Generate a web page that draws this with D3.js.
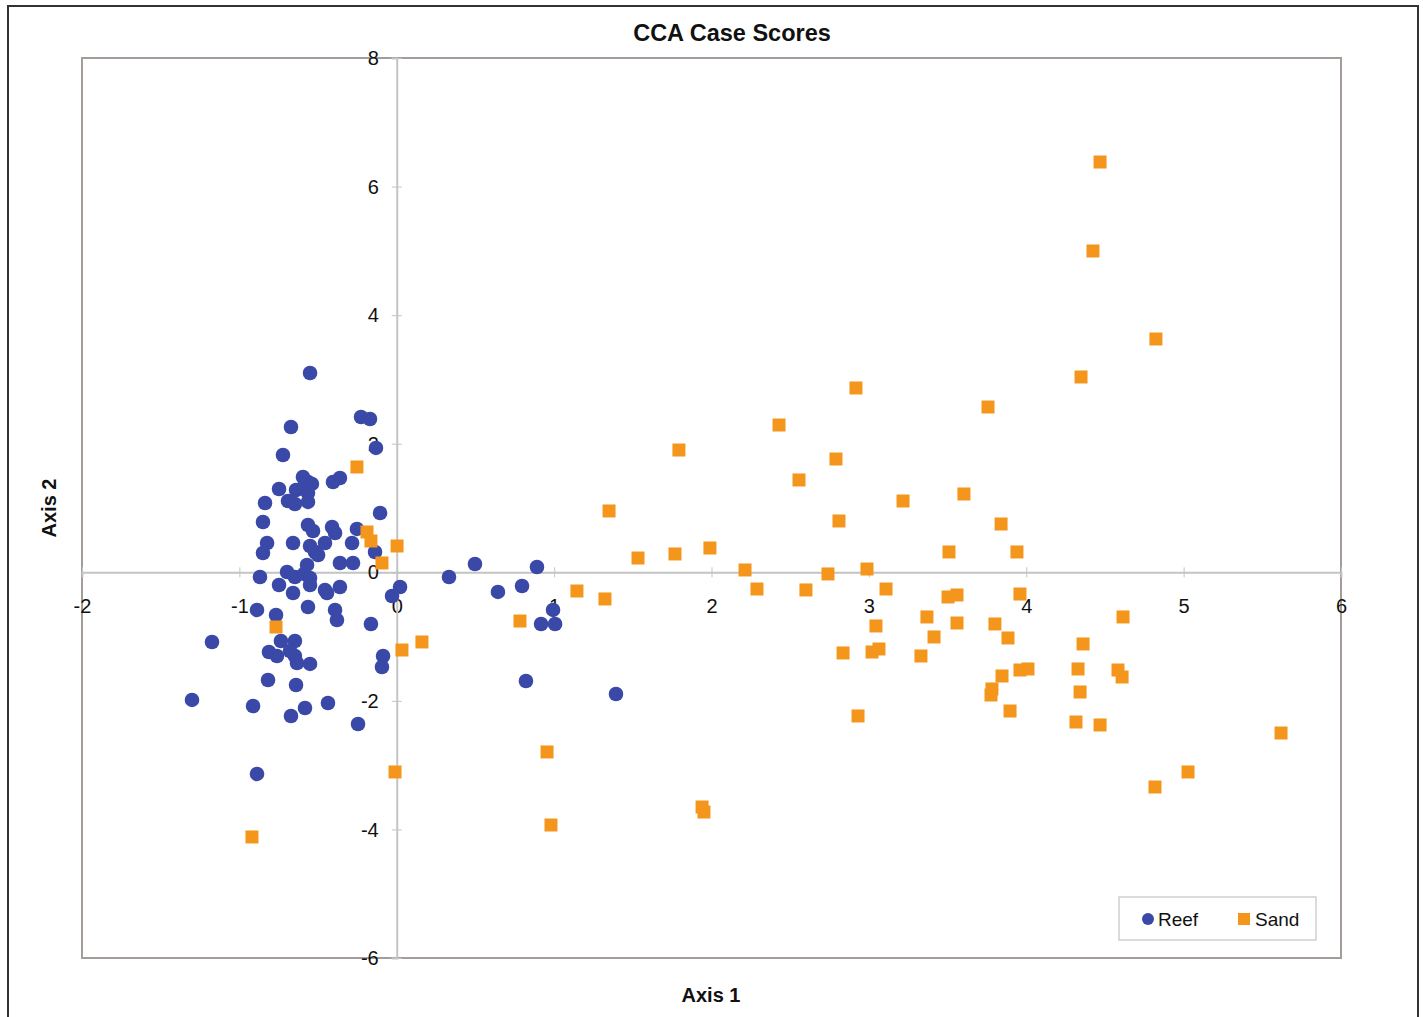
<!DOCTYPE html>
<html><head><meta charset="utf-8">
<script src="https://cdn.jsdelivr.net/npm/d3@7"></script>
<style>html,body{margin:0;padding:0;background:#fff;}svg{display:block;font-family:"Liberation Sans",Arial,sans-serif;}</style>
</head><body><svg id="c" width="1423" height="1017"></svg>
<script>
const title = "CCA Case Scores";
const xLabel = "Axis 1";
const yLabel = "Axis 2";
const xTicks = [-2,-1,0,1,2,3,4,5,6];
const yTicks = [-6,-4,-2,0,2,4,6,8];
const seriesNames = ["Reef","Sand"];
const reefX = [-0.551,-0.227,-0.170,-0.672,-0.132,-0.723,-0.596,-0.564,-0.539,-0.361,-0.405,-0.748,-0.640,-0.596,-0.564,-0.837,-0.691,-0.647,-0.564,-0.106,-0.850,-0.564,-0.532,-0.411,-0.392,-0.253,-0.824,-0.850,-0.659,-0.551,-0.519,-0.500,-0.456,-0.284,-0.138,-0.570,-0.361,-0.278,-0.869,-0.697,-0.647,-0.589,-0.551,-0.748,-0.551,-0.659,-0.456,-0.443,-0.361,0.021,-0.030,0.332,0.497,0.643,0.796,0.891,0.993,0.917,1.006,0.821,1.393,-0.888,-0.767,-0.564,-0.392,-0.380,-0.164,-1.174,-0.736,-0.647,-0.812,-0.761,-0.678,-0.647,-0.634,-0.551,-0.087,-0.094,-0.818,-0.640,-1.301,-0.913,-0.672,-0.583,-0.437,-0.246,-0.888];
const reefY = [3.100,2.416,2.385,2.260,1.934,1.825,1.482,1.405,1.374,1.467,1.405,1.296,1.280,1.311,1.234,1.078,1.109,1.062,1.094,0.922,0.782,0.736,0.642,0.705,0.611,0.674,0.456,0.300,0.456,0.409,0.316,0.269,0.456,0.456,0.316,0.114,0.145,0.145,-0.073,0.005,-0.073,-0.026,-0.089,-0.198,-0.198,-0.322,-0.275,-0.322,-0.229,-0.229,-0.369,-0.073,0.129,-0.306,-0.213,0.082,-0.586,-0.804,-0.804,-1.691,-1.893,-0.586,-0.664,-0.540,-0.586,-0.742,-0.804,-1.084,-1.069,-1.069,-1.240,-1.302,-1.224,-1.302,-1.411,-1.426,-1.302,-1.473,-1.675,-1.753,-1.986,-2.080,-2.235,-2.111,-2.033,-2.360,-3.137];
const sandX = [4.469,4.424,4.824,4.348,2.918,3.757,2.429,1.793,2.791,2.556,3.604,3.217,-0.253,1.349,2.810,3.840,-0.189,-0.164,0.002,-0.094,1.533,1.768,1.990,3.509,3.941,2.213,2.289,2.740,2.988,1.145,1.323,2.600,3.109,0.783,-0.767,0.160,0.033,3.045,3.369,3.503,3.560,3.960,3.414,3.560,3.801,3.884,4.615,4.361,2.836,3.020,3.064,3.331,3.846,3.960,4.011,4.329,4.583,4.609,3.782,3.776,4.342,3.897,2.931,4.316,4.469,5.619,0.955,-0.011,5.028,4.818,1.940,1.952,0.980,-0.920];
const sandY = [6.382,4.998,3.629,3.038,2.867,2.571,2.291,1.902,1.762,1.436,1.218,1.109,1.638,0.954,0.798,0.751,0.627,0.487,0.409,0.145,0.222,0.285,0.378,0.316,0.316,0.036,-0.260,-0.026,0.051,-0.291,-0.415,-0.275,-0.260,-0.758,-0.851,-1.084,-1.209,-0.835,-0.695,-0.384,-0.353,-0.338,-1.006,-0.789,-0.804,-1.022,-0.695,-1.115,-1.255,-1.240,-1.193,-1.302,-1.613,-1.520,-1.504,-1.504,-1.520,-1.629,-1.815,-1.909,-1.862,-2.158,-2.235,-2.329,-2.375,-2.500,-2.795,-3.106,-3.106,-3.340,-3.651,-3.729,-3.931,-4.117];

const reefColor = "#3a48a8", sandColor = "#f5961c";
const svg = d3.select("#c");
svg.append("rect").attr("x",8).attr("y",6).attr("width",1410).attr("height",1030)
  .attr("fill","#fff").attr("stroke","#333").attr("stroke-width",2);

const L=82, R=1341, T=58, B=958;
const x = d3.scaleLinear().domain([-2,6]).range([L,R]);
const y = d3.scaleLinear().domain([-6,8]).range([B,T]);

svg.append("rect").attr("x",L).attr("y",T).attr("width",R-L).attr("height",B-T)
  .attr("fill","#fff").attr("stroke","#a49c98").attr("stroke-width",2);

const fmt = d => d<0 ? "-"+Math.abs(d) : String(d);
const xAxisG = svg.append("g").attr("transform",`translate(0,${y(0)})`)
  .call(d3.axisBottom(x).tickValues(xTicks).tickSize(5));
xAxisG.select(".domain").attr("stroke","#c4c4c4").attr("stroke-width",2);
xAxisG.selectAll(".tick line").attr("stroke","#c4c4c4").attr("y1",-5).attr("y2",5);
xAxisG.selectAll(".tick text").attr("font-size",20).attr("fill","#111").attr("dy","0.95em").attr("y",22)
  .text(fmt);

const yAxisG = svg.append("g").attr("transform",`translate(${x(0)},0)`)
  .call(d3.axisLeft(y).tickValues(yTicks).tickSize(5));
yAxisG.select(".domain").attr("stroke","#c4c4c4").attr("stroke-width",2);
yAxisG.selectAll(".tick line").attr("stroke","#c4c4c4").attr("x1",-5).attr("x2",5);
yAxisG.selectAll(".tick text").attr("font-size",20).attr("fill","#111").attr("x",-18).attr("dy","0.33em")
  .text(fmt);

const reef = reefX.map((v,i)=>({x:v,y:reefY[i]}));
const sand = sandX.map((v,i)=>({x:v,y:sandY[i]}));
svg.append("g").selectAll("circle").data(reef).join("circle")
  .attr("cx",d=>x(d.x)).attr("cy",d=>y(d.y)).attr("r",7.3).attr("fill",reefColor);
const s=13;
svg.append("g").selectAll("rect").data(sand).join("rect")
  .attr("x",d=>x(d.x)-s/2).attr("y",d=>y(d.y)-s/2).attr("width",s).attr("height",s).attr("fill",sandColor);

svg.append("text").attr("x",732).attr("y",41).attr("text-anchor","middle")
  .attr("font-size",23.5).attr("font-weight","bold").attr("fill","#111").text(title);
svg.append("text").attr("x",711).attr("y",1002).attr("text-anchor","middle")
  .attr("font-size",20).attr("font-weight","bold").attr("fill","#111").text(xLabel);
svg.append("text").attr("transform","translate(56,508) rotate(-90)").attr("text-anchor","middle")
  .attr("font-size",20).attr("font-weight","bold").attr("fill","#111").text(yLabel);

const lg = svg.append("g");
lg.append("rect").attr("x",1119).attr("y",897).attr("width",197).attr("height",43)
  .attr("fill","#fff").attr("stroke","#d0d0d0").attr("stroke-width",1.5);
lg.append("circle").attr("cx",1148).attr("cy",919).attr("r",6).attr("fill",reefColor);
lg.append("text").attr("x",1158).attr("y",926).attr("font-size",19).attr("fill","#111").text(seriesNames[0]);
lg.append("rect").attr("x",1238).attr("y",913).attr("width",12).attr("height",12).attr("fill",sandColor);
lg.append("text").attr("x",1255).attr("y",926).attr("font-size",19).attr("fill","#111").text(seriesNames[1]);
</script></body></html>
